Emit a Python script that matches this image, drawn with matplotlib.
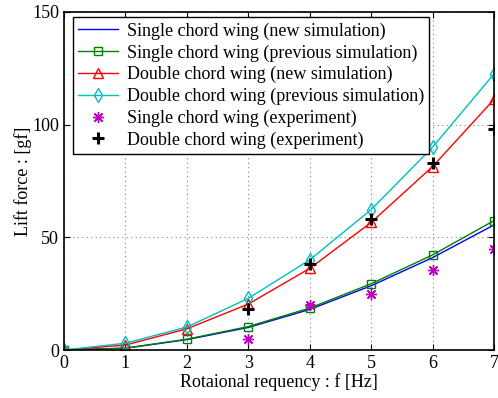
import matplotlib
matplotlib.use("Agg")
import matplotlib.pyplot as plt

plt.rcParams['font.family'] = ['Liberation Serif', 'DejaVu Serif']

# rotational frequency [Hz]
freq = [0, 1, 2, 3, 4, 5, 6, 7]
freq_exp = [3, 4, 5, 6, 7]

# lift force [gf]
single_new = [0, 0.8, 4.6, 10.0, 18.0, 28.5, 41.0, 55.5]
single_prev = [0, 0.8, 4.8, 10.4, 18.6, 29.4, 42.2, 57.4]
double_new = [0, 2.2, 9.4, 20.4, 36.2, 56.6, 81.4, 111.2]
double_prev = [0, 3.0, 10.2, 22.9, 40.0, 62.3, 90.0, 122.5]
single_exp = [5.0, 20.0, 25.0, 35.3, 44.9]
double_exp = [18.2, 38.0, 58.1, 82.8, 98.1]

fig = plt.figure(figsize=(4.98, 3.98), dpi=100)
ax = fig.add_axes([0.1285, 0.1206, 0.8635, 0.8494])

ax.plot(freq, single_new, color=(0, 0, 1), lw=1.0,
        label="Single chord wing (new simulation)")
ax.plot(freq, single_prev, color=(0, 0.5, 0), lw=1.0, marker="s", ms=5.5,
        mfc="none", mew=1.0, label="Single chord wing (previous simulation)")
ax.plot(freq, double_new, color=(1, 0, 0), lw=1.0, marker="^", ms=6.5,
        mfc="none", mew=1.0, label="Double chord wing (new simulation)")
ax.plot(freq, double_prev, color=(0, 0.75, 0.75), lw=1.0, marker="d", ms=7,
        mfc="none", mew=1.0, label="Double chord wing (previous simulation)")
ax.plot(freq_exp, single_exp, ls="none", color=(0.75, 0, 0.75), marker=(8, 2, 0),
        ms=8, mew=1.0, label="Single chord wing (experiment)")
ax.plot(freq_exp, double_exp, ls="none", color="black", marker="+",
        ms=9, mew=2.2, label="Double chord wing (experiment)")

ax.set_xlim(0, 7)
ax.set_ylim(0, 150)
ax.set_xticks(freq)
ax.set_yticks([0, 50, 100, 150])
ax.tick_params(direction="in", top=True, right=True, labelsize=13, length=4)
ax.grid(True, ls=(0, (1, 3)), color="gray", lw=0.8)
for s in ax.spines.values():
    s.set_linewidth(1.2)

ax.set_xlabel("Rotaional requency : f [Hz]", fontsize=13, labelpad=1)
ax.set_ylabel("Lift force : [gf]", fontsize=13, labelpad=0)

leg = ax.legend(loc="upper left", bbox_to_anchor=(0.02, 0.985), fontsize=13,
                frameon=True, fancybox=False, framealpha=1, edgecolor="black",
                borderpad=0.3, labelspacing=0.25, handlelength=2.2,
                handletextpad=0.5, borderaxespad=0)
leg.get_frame().set_linewidth(1.0)

fig.savefig("out.png", dpi=100)
